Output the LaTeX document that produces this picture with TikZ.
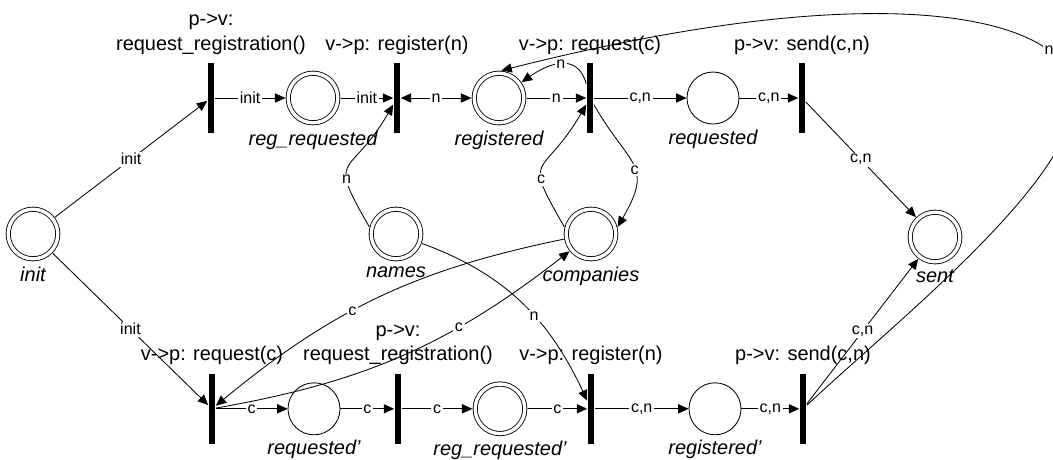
\documentclass[tikz,border=0pt]{standalone}
\usepackage{fontspec}
\setmainfont{Liberation Sans}
\usetikzlibrary{arrows.meta, positioning}

\newcommand{\namefont}{\fontsize{14.2}{17.5}\selectfont}
\newcommand{\arcfont}{\fontsize{11.4}{13}\selectfont}

\begin{document}
\begin{tikzpicture}[line width=0.6pt,
    >={Triangle[length=0.26cm,width=0.23cm]},
    place/.style={circle, draw, minimum size=1.3cm, inner sep=0pt,
        label={[font=\namefont\itshape, label distance=0pt]below:#1}},
    dplace/.style={place=#1, double, double distance=2.4pt, outer sep=2pt, minimum size=1.24cm},
    trans/.style={rectangle, fill=black, minimum width=0.17cm, minimum height=1.75cm, inner sep=0pt,
        label={[font=\namefont, align=center, label distance=0.08cm]above:#1}},
    lab/.style={fill=white, inner sep=1.2pt, font=\arcfont}]
    \useasboundingbox (0,0) rectangle (26.325,-11.475);

    % Places
    \node[dplace=init] (init) at (0.825,-5.85) {};
    \node[dplace=reg\_requested] (regreq) at (7.825,-2.45) {};
    \node[dplace=registered] (registered) at (12.475,-2.45) {};
    \node[place=requested] (requested) at (17.825,-2.45) {};
    \node[dplace=names] (names) at (9.9,-5.85) {};
    \node[dplace=companies] (companies) at (14.775,-5.85) {};
    \node[dplace=sent] (sent) at (23.375,-5.925) {};
    \node[place=requested'] (requestedB) at (7.85,-10.22) {};
    \node[dplace=reg\_requested'] (regreqB) at (12.5,-10.22) {};
    \node[place=registered'] (registeredB) at (17.875,-10.22) {};

    % Transitions, top row
    \node[trans={p->v:\\request\_registration()}] (treqreg) at (5.275,-2.45) {};
    \node[trans={v->p: register(n)}] (tregister) at (9.925,-2.45) {};
    \node[trans={v->p: request(c)}] (trequest) at (14.75,-2.45) {};
    \node[trans={p->v: send(c,n)}] (tsend) at (20.05,-2.45) {};

    % Transitions, bottom row
    \node[trans={v->p: request(c)}] (trequestB) at (5.3,-10.22) {};
    \node[trans={p->v:\\request\_registration()}] (treqregB) at (9.95,-10.22) {};
    \node[trans={v->p: register(n)}] (tregisterB) at (14.775,-10.22) {};
    \node[trans={p->v: send(c,n)}] (tsendB) at (20.075,-10.22) {};
    \coordinate (nbend) at (26.875,-2.375);

    % Arcs, top row
    \draw[->] (init) -- node[lab]{init} (treqreg);
    \draw[->] (treqreg) -- node[lab]{init} (regreq);
    \draw[->] (regreq) -- node[lab]{init} (tregister);
    \draw[<->] (tregister) -- node[lab]{n} (registered);
    \draw[->] (registered) -- node[lab]{n} (trequest);
    \draw[->] (trequest) to[out=105, in=35, looseness=1.3] node[lab]{n} (registered);
    \draw[->] (trequest) -- node[lab]{c,n} (requested);
    \draw[->] (requested) -- node[lab]{c,n} (tsend);
    \draw[->] (tsend) -- node[lab]{c,n} (sent);

    % Arcs from names and companies
    \draw[->] (names.165) to[out=120, in=240, looseness=1.8] node[lab, pos=0.32]{n} (tregister);
    \draw[->] (companies.165) to[out=120, in=240, looseness=1.8] node[lab, pos=0.32]{c} (trequest);
    \draw[->] (trequest) to[out=-60, in=60, looseness=1.5] node[lab, pos=0.55]{c} (companies.15);
    \draw[->] (names) to[out=-20, in=115] node[lab, pos=0.58]{n} (tregisterB);
    \draw[->] (companies) to[bend right=14] node[lab, pos=0.58]{c} (trequestB);
    \draw[->] (trequestB) to[bend right=14] node[lab, pos=0.67]{c} (companies);

    % Arcs, bottom row
    \draw[->] (init) -- node[lab]{init} (trequestB);
    \draw[->] (trequestB) -- node[lab]{c} (requestedB);
    \draw[->] (requestedB) -- node[lab]{c} (treqregB);
    \draw[->] (treqregB) -- node[lab]{c} (regreqB);
    \draw[->] (regreqB) -- node[lab]{c} (tregisterB);
    \draw[->] (tregisterB) -- node[lab]{c,n} (registeredB);
    \draw[->] (registeredB) -- node[lab]{c,n} (tsendB);
    \draw[->] (tsendB) -- node[lab]{c,n} (sent);
    \draw[->] (tsendB) .. controls (22.5,-7.95) and (26.875,-4.5) .. (nbend)
        .. controls (26.875,-0.5) and (22.5,0.75) .. (registered.85) node[lab, pos=0.22]{n};
\end{tikzpicture}
\end{document}
